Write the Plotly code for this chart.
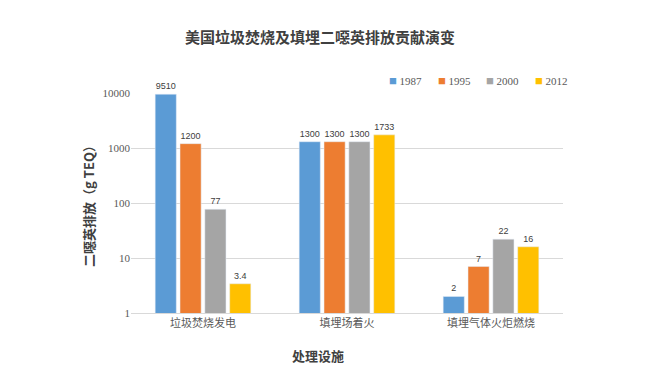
import plotly.graph_objects as go

categories = ["垃圾焚烧发电", "填埋场着火", "填埋气体火炬燃烧"]
years = ["1987", "1995", "2000", "2012"]
values = {
    "1987": [9510, 1300, 2],
    "1995": [1200, 1300, 7],
    "2000": [77, 1300, 22],
    "2012": [3.4, 1733, 16],
}
labels = {
    "1987": ["9510", "1300", "2"],
    "1995": ["1200", "1300", "7"],
    "2000": ["77", "1300", "22"],
    "2012": ["3.4", "1733", "16"],
}
colors = ["#5B9BD5", "#ED7D31", "#A5A5A5", "#FFC000"]
yticks = [1, 10, 100, 1000, 10000]

# page has an 8px body margin; figure size is reduced accordingly
W, H = 649, 364
L, R, T, B = 123, 94, 85, 59
PW = W - L - R
PH = H - T - B


def px_x(px):
    return (px - L) / PW


def px_y(py):
    return (H - B - py) / PH


font_cjk = "Noto Sans CJK SC"
fig = go.Figure()
for y, c in zip(years, colors):
    fig.add_trace(go.Bar(
        name=y, x=categories, y=values[y], marker_color=c,
        text=labels[y], textposition="outside",
        textfont=dict(size=9, color="#404040", family="Liberation Sans"),
        cliponaxis=False, showlegend=False,
    ))

# legend entries as text annotations (small coloured squares like the original)
for i, (y, c) in enumerate(zip(years, colors)):
    fig.add_annotation(
        x=px_x(379 + 48.5 * i), xref="paper", xanchor="left",
        y=px_y(72), yref="paper", yanchor="middle",
        text=f"<span style='color:{c};font-size:13px'>■</span> {y}",
        showarrow=False,
        font=dict(size=11, family="Liberation Serif", color="#595959"),
    )

# x-axis title
fig.add_annotation(
    x=px_x(310), xref="paper", xanchor="center",
    y=px_y(347), yref="paper", yanchor="middle",
    text="<b>处理设施</b>", showarrow=False,
    font=dict(size=13, family=font_cjk, color="#404040"),
)

fig.update_layout(
    width=W, height=H,
    margin=dict(l=L, r=R, t=T, b=B, autoexpand=False),
    paper_bgcolor="white", plot_bgcolor="white",
    barmode="group", bargap=0.31, bargroupgap=0.15,
    title=dict(text="<b>美国垃圾焚烧及填埋二噁英排放贡献演变</b>", x=312 / W, xanchor="center",
               y=1 - 30 / H, yanchor="middle",
               font=dict(size=15, family=font_cjk, color="#404040")),
    showlegend=False,
)
fig.update_xaxes(
    showline=True, linecolor="#D9D9D9", linewidth=1,
    tickfont=dict(size=11, family=font_cjk, color="#595959"),
)
fig.update_yaxes(
    type="log", range=[0, 4], tickvals=yticks, ticktext=[str(v) for v in yticks],
    showgrid=True, gridcolor="#D9D9D9", zeroline=False,
    tickfont=dict(size=11, family="Liberation Serif", color="#595959"),
    ticks="", ticklen=0,
    title=dict(text="<b>二噁英排放（g TEQ）</b>", font=dict(size=13, family=font_cjk, color="#404040"), standoff=4),
)
fig.write_html("out.html")
